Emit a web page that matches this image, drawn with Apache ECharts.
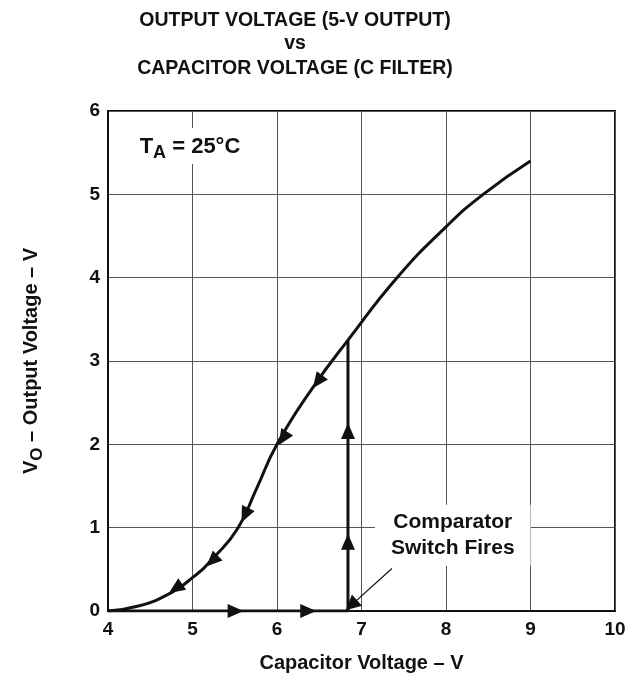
<!DOCTYPE html>
<html>
<head>
<meta charset="utf-8">
<script src="https://cdn.jsdelivr.net/npm/echarts@6/dist/echarts.min.js"></script>
<style>
html,body{margin:0;padding:0;background:#fff;}
#c{width:641px;height:682px;}
</style>
</head>
<body>
<div id="c"></div>
<script>
// ---- data ----
const titleLines = ['OUTPUT VOLTAGE (5-V OUTPUT)', 'vs', 'CAPACITOR VOLTAGE (C FILTER)'];
const xTicks = [4, 5, 6, 7, 8, 9, 10];
const yTicks = [0, 1, 2, 3, 4, 5, 6];
// discharge curve (output voltage vs capacitor voltage)
const curveX = [4.0, 4.36, 4.71, 5.0, 5.27, 5.54, 5.75, 6.0, 6.43, 6.84, 7.42, 8.0, 8.44, 9.0];
const curveY = [0.0, 0.06, 0.20, 0.40, 0.66, 1.00, 1.45, 2.00, 2.69, 3.25, 4.00, 4.61, 5.00, 5.40];
// charge path: flat at 0 V then switch fires and jumps up
const pathX = [4.0, 6.84, 6.84];
const pathY = [0.0, 0.0, 3.25];
// arrow markers on the curve (pointing down along the curve)
const curveArrowX = [6.48, 6.07, 5.62, 5.23, 4.80];
const curveArrowY = [2.75, 2.07, 1.15, 0.60, 0.27];
// arrow markers on the flat segment (pointing right)
const flatArrowX = [5.51, 6.37];
const flatArrowY = [0, 0];
// arrow markers on the vertical segment (pointing up)
const riseArrowX = [6.84, 6.84];
const riseArrowY = [0.83, 2.16];
// annotation
const noteText = ['Comparator', 'Switch Fires'];
const notePos = [8.08, 0.91];
const pointerFrom = [7.36, 0.51];
const pointerTo = [6.88, 0.07];
const tempPos = [4.97, 5.58];

const zip = (a, b) => a.map((v, i) => [v, b[i]]);
const INK = '#111';
const GRIDC = '#555';
const FONT = '"Liberation Sans", Arial, Helvetica, sans-serif';

const chart = echarts.init(document.getElementById('c'), null, {renderer: 'canvas'});

const titleStyle = (t) => ({text: t, font: 'bold 19.5px ' + FONT, fill: INK, align: 'center', verticalAlign: 'middle'});

const base = {
  animation: false,
  backgroundColor: '#fff',
  textStyle: {fontFamily: FONT},
  graphic: [
    {type: 'text', x: 295, y: 20.4, style: titleStyle(titleLines[0])},
    {type: 'text', x: 295, y: 43.5, style: titleStyle(titleLines[1])},
    {type: 'text', x: 295, y: 68.7, style: titleStyle(titleLines[2])}
  ],
  grid: {left: 108, right: 26, top: 111, bottom: 71, show: true, borderColor: INK, borderWidth: 2, backgroundColor: 'transparent'},
  xAxis: {
    type: 'value', min: xTicks[0], max: xTicks[xTicks.length - 1], interval: 1,
    name: 'Capacitor Voltage – V', nameLocation: 'middle', nameGap: 42,
    nameTextStyle: {fontSize: 20, fontWeight: 'bold', color: INK, fontFamily: FONT},
    axisLine: {show: true, lineStyle: {color: INK, width: 2}},
    axisTick: {show: false},
    axisLabel: {fontSize: 19, fontWeight: 'bold', color: INK, margin: 9, fontFamily: FONT},
    splitLine: {show: true, lineStyle: {color: GRIDC, width: 1}}
  },
  yAxis: {
    type: 'value', min: yTicks[0], max: yTicks[yTicks.length - 1], interval: 1,
    name: '{m|V}{s|O}{m| – Output Voltage – V}', nameLocation: 'middle', nameGap: 62,
    nameTextStyle: {
      color: INK, fontFamily: FONT,
      rich: {
        m: {fontSize: 20, fontWeight: 'bold', color: INK, fontFamily: FONT},
        s: {fontSize: 17, fontWeight: 'bold', color: INK, fontFamily: FONT, padding: [12, 0, 0, 0]}
      }
    },
    axisLine: {show: true, lineStyle: {color: INK, width: 2}},
    axisTick: {show: false},
    axisLabel: {fontSize: 19, fontWeight: 'bold', color: INK, margin: 8, fontFamily: FONT},
    splitLine: {show: true, lineStyle: {color: GRIDC, width: 1}}
  },
  series: [
    {
      name: 'curve', type: 'line', data: zip(curveX, curveY), smooth: 0.5,
      symbol: 'none', lineStyle: {color: INK, width: 3}, z: 5
    },
    {
      name: 'path', type: 'line', data: zip(pathX, pathY), symbol: 'none',
      lineStyle: {color: INK, width: 3}, z: 5
    },
    {
      name: 'pointer', type: 'lines', coordinateSystem: 'cartesian2d',
      data: [{coords: [pointerFrom, pointerTo]}],
      symbol: ['none', 'triangle'], symbolSize: [11, 15],
      itemStyle: {color: INK},
      lineStyle: {color: INK, width: 1.2, opacity: 1}, z: 6
    },
    {
      name: 'note', type: 'scatter', data: [notePos], symbolSize: 0, z: 4, silent: true,
      itemStyle: {opacity: 1},
      label: {
        show: true, position: 'inside', formatter: noteText.join('\n'),
        fontSize: 21, fontWeight: 'bold', color: INK, fontFamily: FONT, lineHeight: 26, align: 'center',
        backgroundColor: '#fff', padding: [3, 16, 6, 16]
      }
    },
    {
      name: 'temp', type: 'scatter', data: [tempPos], symbolSize: 0, z: 4, silent: true,
      itemStyle: {opacity: 1},
      label: {
        show: true, position: 'inside', formatter: '{m|T}{s|A}{m| = 25°C}',
        backgroundColor: '#fff', padding: [4, 6, 2, 6],
        rich: {
          m: {fontSize: 22, fontWeight: 'bold', color: INK, fontFamily: FONT},
          s: {fontSize: 18, fontWeight: 'bold', color: INK, fontFamily: FONT, padding: [12, 0, 0, 0]}
        }
      }
    }
  ]
};
chart.setOption(base);

// compute arrow orientations in pixel space from the data
function angleBetween(p0, p1) {
  const a = chart.convertToPixel({gridIndex: 0}, p0);
  const b = chart.convertToPixel({gridIndex: 0}, p1);
  const theta = Math.atan2(-(b[1] - a[1]), b[0] - a[0]) * 180 / Math.PI;
  return theta - 90;
}
function curveDir(x) {
  let i = 0;
  while (i < curveX.length - 2 && curveX[i + 1] <= x) i++;
  // direction of travel: from higher x to lower x along the curve
  return angleBetween([curveX[i + 1], curveY[i + 1]], [curveX[i], curveY[i]]);
}
const arrowData = [];
curveArrowX.forEach((x, i) => arrowData.push({value: [x, curveArrowY[i]], symbolRotate: curveDir(x)}));
flatArrowX.forEach((x, i) => arrowData.push({value: [x, flatArrowY[i]], symbolRotate: angleBetween([0, 0], [1, 0])}));
riseArrowX.forEach((x, i) => arrowData.push({value: [x, riseArrowY[i]], symbolRotate: angleBetween([0, 0], [0, 1])}));

chart.setOption({
  series: base.series.concat([{
    name: 'arrows', type: 'scatter', data: arrowData, symbol: 'triangle', symbolSize: [14, 16],
    itemStyle: {color: INK, opacity: 1}, z: 7, silent: true
  }])
});
</script>
</body>
</html>
